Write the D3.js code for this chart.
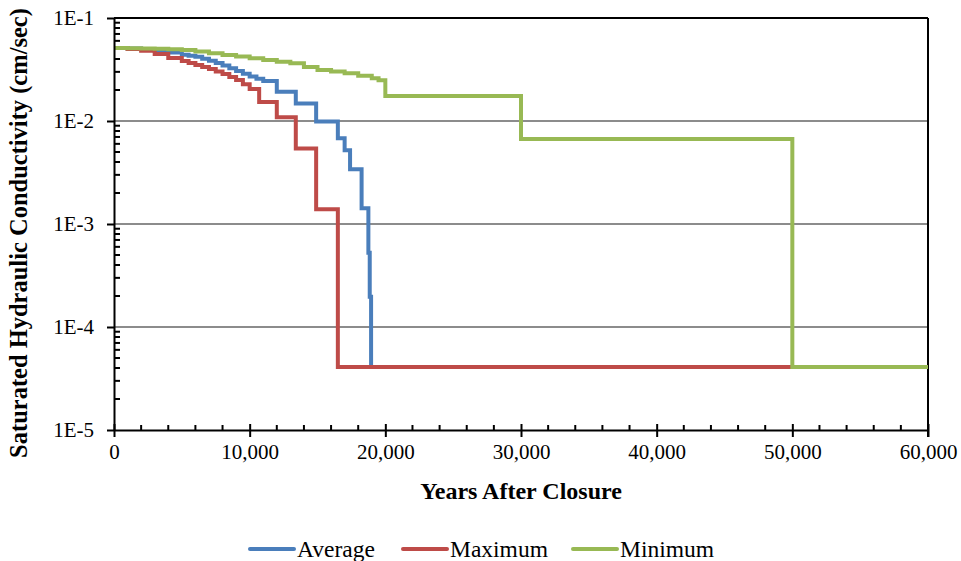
<!DOCTYPE html>
<html>
<head>
<meta charset="utf-8">
<script src="https://cdn.jsdelivr.net/npm/d3@7"></script>
<style>
  body { margin: 0; background: #fff; }
</style>
</head>
<body>
<svg id="chart" width="961" height="561"></svg>
<script>
// years after closure / saturated hydraulic conductivity (cm/sec)
var avgYears = [0, 1000, 2000, 3000, 4000, 5000, 5500, 6000, 6500, 7000, 7500, 8000, 8500, 9000, 9500, 10000, 10500, 11000,
                12000, 13400, 14900, 16500, 17000, 17400, 18250, 18750, 18850, 18950, 50000];
var avgValues = [0.051, 0.0505, 0.0497, 0.048, 0.0463, 0.044, 0.043, 0.042, 0.0403, 0.0385, 0.0365, 0.0345, 0.0325, 0.0305, 0.0288, 0.027, 0.0257, 0.0245,
                 0.0192, 0.0148, 0.0099, 0.0068, 0.0052, 0.0034, 0.00142, 0.000525, 0.000197, 4.1e-5, 4.1e-5];

var maxYears = [0, 1000, 2000, 3000, 4000, 5000, 5500, 6000, 6500, 7000, 7500, 8000, 8500, 9000, 9500, 10000, 10700,
                12000, 13400, 14900, 16500, 50000];
var maxValues = [0.051, 0.05, 0.048, 0.0447, 0.041, 0.0382, 0.0366, 0.035, 0.0335, 0.032, 0.0303, 0.0286, 0.0268, 0.025, 0.0228, 0.0205, 0.0153,
                 0.0109, 0.0054, 0.00139, 4.1e-5, 4.1e-5];

var minYears = [0, 1000, 2000, 3000, 4000, 5000, 6000, 7000, 8000, 9000, 10000, 11000, 12000, 13000,
                14000, 15000, 16000, 17000, 18000, 19000, 19500, 20000, 30000, 50000, 60000];
var minValues = [0.051, 0.0508, 0.0505, 0.0502, 0.0497, 0.049, 0.0472, 0.0454, 0.0438, 0.0422, 0.0406, 0.039, 0.0376, 0.0363,
                 0.0335, 0.0313, 0.0302, 0.029, 0.0275, 0.026, 0.0248, 0.0175, 0.0067, 4.1e-5, 4.1e-5];

var seriesNames = ['Average', 'Maximum', 'Minimum'];
var seriesColors = ['#4a7ebb', '#be4b48', '#98b954'];

var xTicks = [0, 10000, 20000, 30000, 40000, 50000, 60000];
var yTicks = [1e-5, 1e-4, 1e-3, 1e-2, 1e-1];
var yTickLabels = ['1E-5', '1E-4', '1E-3', '1E-2', '1E-1'];

var serif = '"Liberation Serif", "Times New Roman", serif';
var plotLeft = 114, plotRight = 928, plotTop = 18, plotBottom = 430;

var svg = d3.select('#chart');

var x = d3.scaleLinear().domain([0, 60000]).range([plotLeft, plotRight]);
var y = d3.scaleLog().domain([1e-5, 1e-1]).range([plotBottom, plotTop]);

// gridlines
svg.append('g')
   .selectAll('line')
   .data(yTicks.slice(1, 4))
   .enter()
   .append('line')
     .attr('x1', plotLeft).attr('x2', plotRight)
     .attr('y1', function(d){ return y(d) }).attr('y2', function(d){ return y(d) })
     .style('stroke', '#8c8c8c').style('stroke-width', 2);

// top and right border
svg.append('line').attr('x1', plotLeft).attr('x2', plotRight).attr('y1', plotTop).attr('y2', plotTop)
   .style('stroke', '#000').style('stroke-width', 2);
svg.append('line').attr('x1', plotRight).attr('x2', plotRight).attr('y1', plotTop).attr('y2', plotBottom + 7)
   .style('stroke', '#000').style('stroke-width', 2);

// minor ticks
var yMinor = [];
[1e-5, 1e-4, 1e-3, 1e-2].forEach(function(dec){
  for (var k = 2; k <= 9; k++) yMinor.push(dec * k);
});
svg.append('g').selectAll('line').data(yMinor).enter().append('line')
   .attr('x1', plotLeft).attr('x2', plotLeft + 6)
   .attr('y1', function(d){ return y(d) }).attr('y2', function(d){ return y(d) })
   .style('stroke', '#000').style('stroke-width', 2);

var xMinor = d3.range(2000, 60000, 2000).filter(function(d){ return d % 10000 !== 0 });
svg.append('g').selectAll('line').data(xMinor).enter().append('line')
   .attr('x1', function(d){ return x(d) }).attr('x2', function(d){ return x(d) })
   .attr('y1', plotBottom).attr('y2', plotBottom - 5)
   .style('stroke', '#000').style('stroke-width', 2);

// series
var series = [
  {years: avgYears, values: avgValues},
  {years: maxYears, values: maxValues},
  {years: minYears, values: minValues}
];

var line = d3.line()
  .x(function(d){ return x(d[0]) })
  .y(function(d){ return y(d[1]) })
  .curve(d3.curveStepAfter);

svg.append('g').selectAll('path')
   .data(series)
   .enter()
   .append('path')
     .attr('d', function(s){ return line(d3.zip(s.years, s.values)) })
     .style('fill', 'none')
     .style('stroke', function(s, i){ return seriesColors[i] })
     .style('stroke-width', 4)
     .style('stroke-linejoin', 'miter');

// axes
var xAxis = svg.append('g')
   .attr('transform', 'translate(0,' + plotBottom + ')')
   .call(d3.axisBottom(x).tickValues(xTicks).tickSizeInner(7).tickSizeOuter(0)
           .tickPadding(7).tickFormat(d3.format(',')));
var yAxis = svg.append('g')
   .attr('transform', 'translate(' + plotLeft + ',0)')
   .call(d3.axisLeft(y).tickValues(yTicks).tickSizeInner(7).tickSizeOuter(0)
           .tickPadding(13).tickFormat(function(d, i){ return yTickLabels[i] }));

[xAxis, yAxis].forEach(function(ax){
  ax.select('.domain').style('stroke', '#000').style('stroke-width', 2);
  ax.selectAll('.tick line').style('stroke', '#000').style('stroke-width', 2);
  ax.selectAll('text').style('font-size', '21px').style('font-family', serif).attr('fill', '#000');
});
xAxis.selectAll('.tick line').attr('y1', -6);

// axis titles
svg.append('text')
   .attr('x', (plotLeft + plotRight) / 2).attr('y', 499)
   .attr('text-anchor', 'middle')
   .style('font-family', serif)
   .style('font-size', '24px').style('font-weight', 'bold')
   .text('Years After Closure');

svg.append('text')
   .attr('transform', 'translate(27,233) rotate(-90)')
   .attr('text-anchor', 'middle')
   .style('font-family', serif)
   .style('font-size', '24.5px').style('font-weight', 'bold')
   .text('Saturated Hydraulic Conductivity (cm/sec)');

// legend
var legendX = [250, 403, 573];
var legend = svg.append('g').selectAll('g')
   .data(seriesNames)
   .enter()
   .append('g')
     .attr('transform', function(d, i){ return 'translate(' + legendX[i] + ',549)' });
legend.append('line')
   .attr('x1', 0).attr('x2', 44).attr('y1', 0).attr('y2', 0)
   .style('stroke', function(d, i){ return seriesColors[i] })
   .style('stroke-width', 4)
   .style('stroke-linecap', 'round');
legend.append('text')
   .attr('x', 47).attr('y', 8)
   .style('font-family', serif)
   .style('font-size', '23.5px')
   .text(function(d){ return d });
</script>
</body>
</html>
